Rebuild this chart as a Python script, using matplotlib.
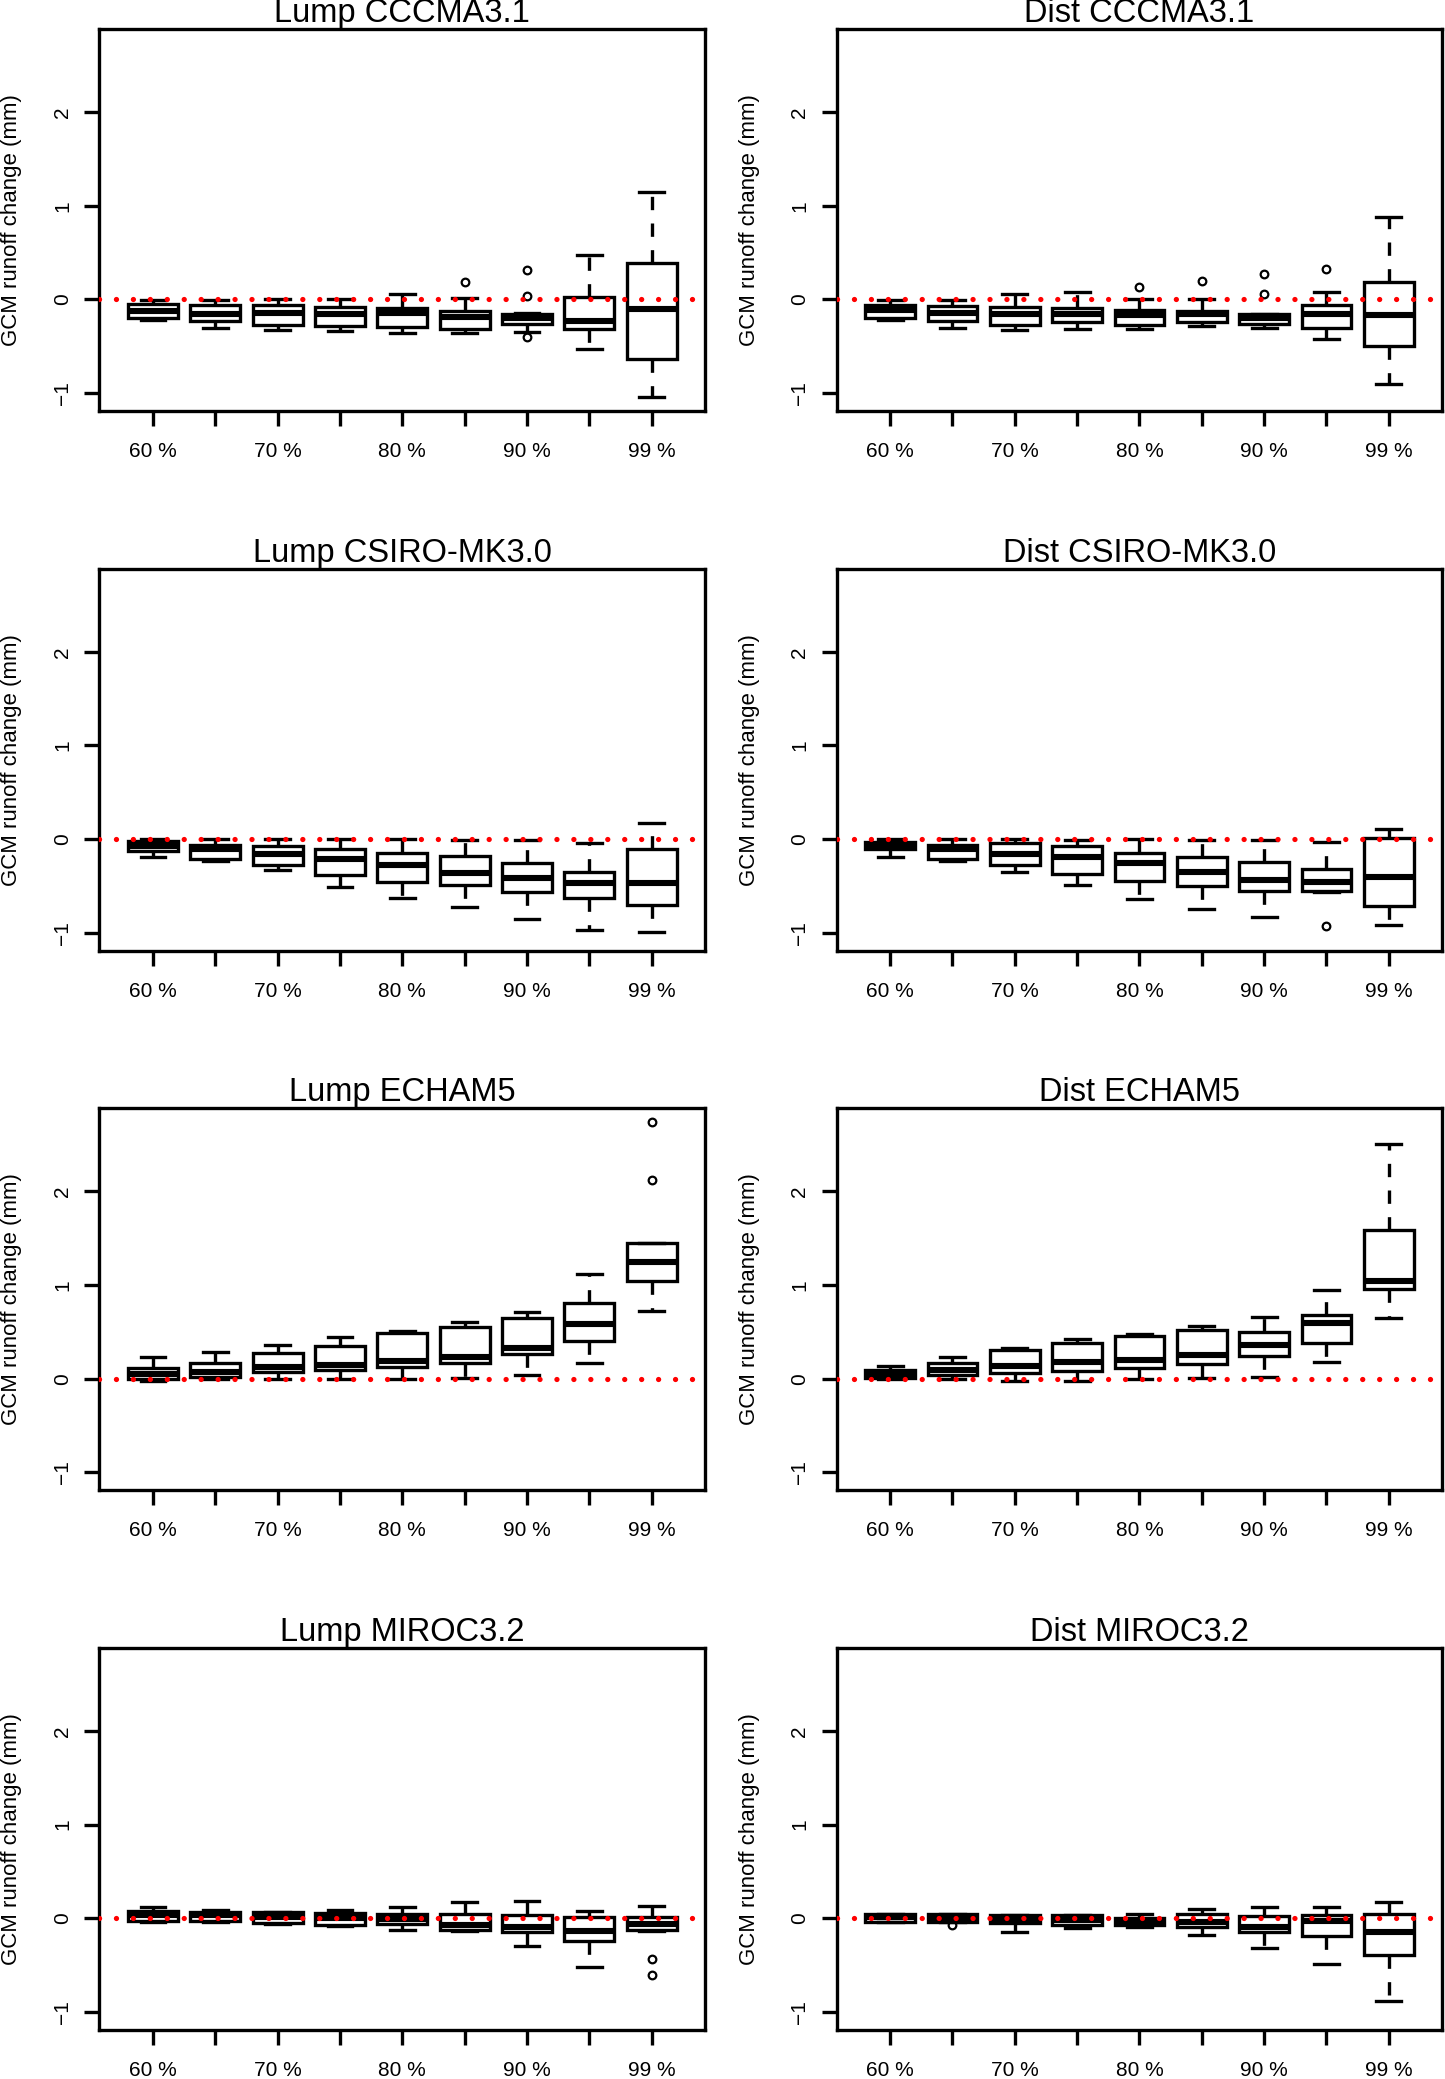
import matplotlib
matplotlib.use("Agg")
import matplotlib.pyplot as plt

plt.rcParams['font.family'] = ['Liberation Sans', 'DejaVu Sans']

tick_pos = [1, 2, 3, 4, 5, 6, 7, 8, 9]
tick_labels = ['60 %', '', '70 %', '', '80 %', '', '90 %', '', '99 %']
yticks = [-1, 0, 1, 2]
ylabel = 'GCM runoff change (mm)'

titles = ['Lump CCCMA3.1', 'Dist CCCMA3.1',
          'Lump CSIRO-MK3.0', 'Dist CSIRO-MK3.0',
          'Lump ECHAM5', 'Dist ECHAM5',
          'Lump MIROC3.2', 'Dist MIROC3.2']

# ---- Lump CCCMA3.1
lc_low = [-0.22, -0.30, -0.33, -0.34, -0.36, -0.36, -0.35, -0.53, -1.04]
lc_q1 = [-0.20, -0.23, -0.275, -0.285, -0.29, -0.31, -0.26, -0.32, -0.64]
lc_med = [-0.125, -0.15, -0.14, -0.15, -0.14, -0.19, -0.20, -0.23, -0.10]
lc_q3 = [-0.053, -0.06, -0.06, -0.08, -0.09, -0.12, -0.15, 0.025, 0.39]
lc_high = [-0.01, -0.01, 0.0, 0.0, 0.06, 0.02, -0.14, 0.48, 1.15]
lc_out = [[], [], [], [], [], [0.185], [0.31, 0.04, -0.40], [], []]

# ---- Dist CCCMA3.1
dc_low = [-0.22, -0.30, -0.33, -0.31, -0.31, -0.28, -0.30, -0.42, -0.90]
dc_q1 = [-0.20, -0.23, -0.27, -0.24, -0.27, -0.24, -0.26, -0.30, -0.50]
dc_med = [-0.11, -0.14, -0.16, -0.16, -0.17, -0.16, -0.20, -0.16, -0.17]
dc_q3 = [-0.06, -0.07, -0.08, -0.09, -0.11, -0.12, -0.16, -0.06, 0.19]
dc_high = [-0.01, -0.01, 0.057, 0.08, 0.0, 0.01, -0.15, 0.08, 0.88]
dc_out = [[], [], [], [], [0.135], [0.20], [0.27, 0.057], [0.33], []]

# ---- Lump CSIRO-MK3.0
ls_low = [-0.185, -0.23, -0.33, -0.505, -0.63, -0.72, -0.855, -0.97, -0.985]
ls_q1 = [-0.13, -0.21, -0.27, -0.38, -0.455, -0.49, -0.56, -0.63, -0.70]
ls_med = [-0.07, -0.10, -0.16, -0.21, -0.28, -0.36, -0.41, -0.47, -0.47]
ls_q3 = [-0.02, -0.06, -0.07, -0.10, -0.15, -0.18, -0.25, -0.345, -0.107]
ls_high = [0.0, 0.0, 0.0, 0.0, 0.0, -0.01, -0.01, -0.04, 0.17]
ls_out = [[], [], [], [], [], [], [], [], []]

# ---- Dist CSIRO-MK3.0
ds_low = [-0.185, -0.23, -0.35, -0.49, -0.64, -0.74, -0.835, -0.56, -0.915]
ds_q1 = [-0.105, -0.21, -0.28, -0.37, -0.445, -0.50, -0.55, -0.55, -0.71]
ds_med = [-0.07, -0.10, -0.16, -0.19, -0.255, -0.355, -0.44, -0.455, -0.40]
ds_q3 = [-0.025, -0.06, -0.045, -0.075, -0.15, -0.19, -0.24, -0.32, 0.01]
ds_high = [0.0, 0.0, 0.0, -0.01, 0.0, -0.01, -0.01, -0.035, 0.107]
ds_out = [[], [], [], [], [], [], [], [-0.925], []]

# ---- Lump ECHAM5
le_low = [-0.02, 0.0, 0.0, 0.0, 0.0, 0.01, 0.035, 0.17, 0.72]
le_q1 = [-0.005, 0.02, 0.07, 0.09, 0.12, 0.165, 0.26, 0.40, 1.045]
le_med = [0.05, 0.075, 0.13, 0.15, 0.19, 0.23, 0.33, 0.58, 1.24]
le_q3 = [0.11, 0.165, 0.275, 0.345, 0.49, 0.55, 0.65, 0.81, 1.45]
le_high = [0.235, 0.29, 0.36, 0.44, 0.51, 0.60, 0.71, 1.12, 1.45]
le_out = [[], [], [], [], [], [], [], [], [2.74, 2.125]]

# ---- Dist ECHAM5
de_low = [-0.005, 0.0, -0.02, -0.02, 0.0, 0.007, 0.02, 0.18, 0.65]
de_q1 = [0.007, 0.035, 0.06, 0.08, 0.115, 0.155, 0.24, 0.38, 0.955]
de_med = [0.045, 0.09, 0.135, 0.18, 0.20, 0.25, 0.355, 0.59, 1.04]
de_q3 = [0.09, 0.165, 0.31, 0.38, 0.455, 0.515, 0.495, 0.68, 1.59]
de_high = [0.14, 0.23, 0.33, 0.42, 0.475, 0.56, 0.66, 0.95, 2.50]
de_out = [[], [], [], [], [], [], [], [], []]

# ---- Lump MIROC3.2
lm_low = [-0.035, -0.035, -0.06, -0.08, -0.12, -0.13, -0.29, -0.515, -0.13]
lm_q1 = [-0.03, -0.03, -0.05, -0.07, -0.06, -0.125, -0.15, -0.24, -0.125]
lm_med = [0.04, 0.035, 0.02, 0.0, -0.005, -0.07, -0.09, -0.13, -0.055]
lm_q3 = [0.08, 0.07, 0.065, 0.06, 0.045, 0.045, 0.035, 0.02, 0.01]
lm_high = [0.12, 0.095, 0.07, 0.085, 0.12, 0.18, 0.19, 0.08, 0.13]
lm_out = [[], [], [], [], [], [], [], [], [-0.43, -0.605]]

# ---- Dist MIROC3.2
dm_low = [-0.04, -0.04, -0.14, -0.105, -0.09, -0.18, -0.32, -0.49, -0.88]
dm_q1 = [-0.035, -0.04, -0.05, -0.07, -0.07, -0.095, -0.15, -0.19, -0.39]
dm_med = [0.01, 0.0, -0.005, -0.02, -0.03, -0.035, -0.09, -0.03, -0.14]
dm_q3 = [0.045, 0.045, 0.035, 0.035, 0.007, 0.045, 0.025, 0.035, 0.045]
dm_high = [0.045, 0.05, 0.035, 0.04, 0.05, 0.105, 0.12, 0.12, 0.18]
dm_out = [[], [-0.07], [], [], [], [], [], [], []]

panels = [
    (lc_low, lc_q1, lc_med, lc_q3, lc_high, lc_out),
    (dc_low, dc_q1, dc_med, dc_q3, dc_high, dc_out),
    (ls_low, ls_q1, ls_med, ls_q3, ls_high, ls_out),
    (ds_low, ds_q1, ds_med, ds_q3, ds_high, ds_out),
    (le_low, le_q1, le_med, le_q3, le_high, le_out),
    (de_low, de_q1, de_med, de_q3, de_high, de_out),
    (lm_low, lm_q1, lm_med, lm_q3, lm_high, lm_out),
    (dm_low, dm_q1, dm_med, dm_q3, dm_high, dm_out),
]

fig = plt.figure(figsize=(14.45, 20.79), dpi=100)

lefts = [0.0688, 0.5789]
bottoms = [0.8023, 0.5427, 0.2832, 0.0236]
w, h = 0.4193, 0.1837

LW = 2.4
for i, (lo, q1, med, q3, hi, out) in enumerate(panels):
    r, c = divmod(i, 2)
    ax = fig.add_axes([lefts[c], bottoms[r], w, h])
    stats = []
    for k in range(9):
        stats.append(dict(whislo=lo[k], q1=q1[k], med=med[k], q3=q3[k],
                          whishi=hi[k], fliers=out[k]))
    ax.bxp(stats, positions=tick_pos, widths=0.8, patch_artist=True,
           boxprops=dict(facecolor='white', edgecolor='black', linewidth=LW),
           medianprops=dict(color='black', linewidth=4.4, solid_capstyle='butt'),
           whiskerprops=dict(color='black', linewidth=LW, linestyle=(0, (4, 4))),
           capprops=dict(color='black', linewidth=LW),
           capwidths=0.4,
           flierprops=dict(marker='o', markerfacecolor='none', markeredgecolor='black',
                           markersize=5.5, markeredgewidth=1.6, linestyle='none'))
    ax.axhline(0, color='red', linewidth=3.8, linestyle=(0, (0.01, 3.2)),
               dash_capstyle='round', zorder=5)
    ax.set_xlim(0.14, 9.86)
    ax.set_ylim(-1.19, 2.885)
    ax.set_xticks(tick_pos)
    ax.set_xticklabels(tick_labels, fontsize=15)
    ax.set_yticks(yticks)
    ax.set_yticklabels(['\u22121', '0', '1', '2'], fontsize=15, rotation=90, va='center')
    ax.tick_params(axis='x', direction='out', length=11, width=LW, pad=11.5)
    ax.tick_params(axis='y', direction='out', length=11, width=LW, pad=8.5)
    for s in ax.spines.values():
        s.set_linewidth(LW)
        s.set_color('black')
    ax.set_title(titles[i], fontsize=23.5, pad=4.0)
    ax.set_ylabel(ylabel, fontsize=16)
    ax.yaxis.set_label_coords(-0.127, 0.5)

fig.savefig('out.png', dpi=100)
